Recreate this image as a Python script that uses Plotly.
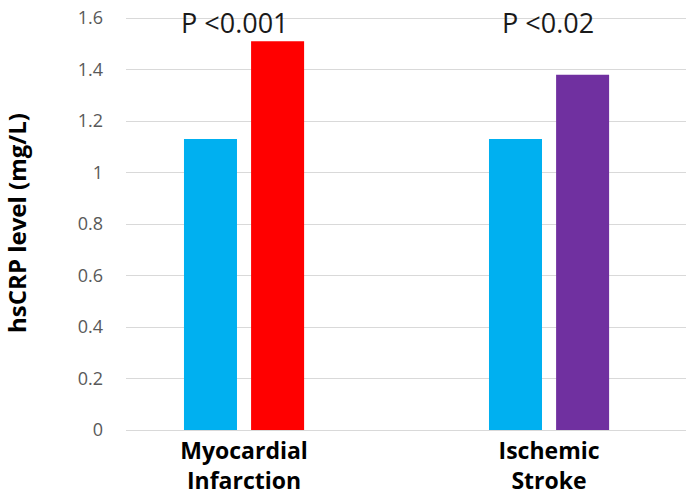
import plotly.graph_objects as go

categories = ["Myocardial<br>Infarction", "Ischemic<br>Stroke"]
control_values = [1.13, 1.13]
case_values = [1.51, 1.38]
case_colors = ["#FF0000", "#7030A0"]
p_labels = ["P <0.001", "P <0.02"]
y_ticks = [0, 0.2, 0.4, 0.6, 0.8, 1, 1.2, 1.4, 1.6]
y_ticktext = ["0", "0.2", "0.4", "0.6", "0.8", "1", "1.2", "1.4", "1.6"]

FONT = "'Open Sans', Lato, sans-serif"

fig = go.Figure()
fig.add_trace(go.Bar(x=[0, 1], y=control_values, marker_color="#00B0F0",
                     marker_line_width=0, name="Control"))
fig.add_trace(go.Bar(x=[0, 1], y=case_values, marker_color=case_colors,
                     marker_line_width=0, name="Case"))

for i, lab in enumerate(p_labels):
    fig.add_annotation(x=i + (-0.031 if i == 0 else -0.005), y=1.0, xref="x", yref="paper",
                       text=lab, showarrow=False, yanchor="middle", yshift=-6,
                       font=dict(family=FONT, size=27, color="#1a1a1a"))

fig.update_layout(
    width=686, height=496,
    margin=dict(l=126, r=0, t=16, b=66, autoexpand=False),
    paper_bgcolor="white", plot_bgcolor="white",
    barmode="group", bargap=0.56, bargroupgap=0.21,
    showlegend=False,
    font=dict(family=FONT),
    xaxis=dict(
        range=[-0.387, 1.449], automargin=False,
        tickvals=[0, 1], ticktext=categories,
        tickfont=dict(family=FONT, size=23, color="#000000", weight="bold"),
        showgrid=False, zeroline=False, showline=False, ticks="",
        ticklabelstandoff=5,
    ),
    yaxis=dict(
        range=[0, 1.608], tickvals=y_ticks, ticktext=y_ticktext, automargin=False,
        tickfont=dict(family=FONT, size=18, color="#595959"),
        showgrid=True, gridcolor="#D9D9D9", gridwidth=1,
        zeroline=True, zerolinecolor="#D9D9D9", zerolinewidth=1,
        showline=False, ticks="", ticklabelstandoff=22,
        ticklabeloverflow="allow",
        title=dict(text="hsCRP level (mg/L)", standoff=46,
                   font=dict(family=FONT, size=24, color="#000000", weight="bold")),
    ),
)

fig.write_html("out.html", config={"displayModeBar": False},
               post_script="document.body.style.margin='0';")
